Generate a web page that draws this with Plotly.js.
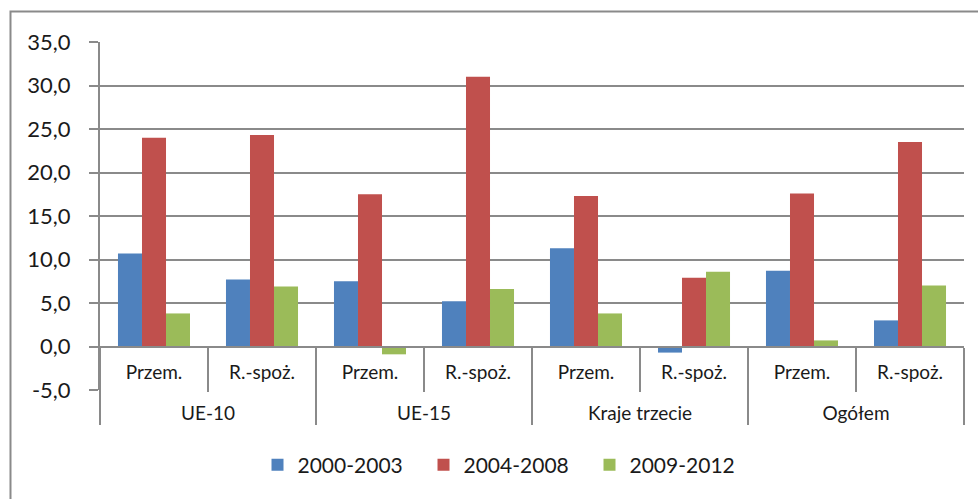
<!DOCTYPE html>
<html><head><meta charset="utf-8">
<script src="https://cdn.plot.ly/plotly-3.0.1.min.js"></script>
<style>html,body{margin:0;padding:0;background:#fff;}#chart{width:978px;height:499px;}</style>
</head><body><div id="chart"></div>
<script>
const groups = ['UE-10','UE-10','UE-15','UE-15','Kraje trzecie','Kraje trzecie','Ogółem','Ogółem'];
const subcats = ['Przem.','R.-spoż.','Przem.','R.-spoż.','Przem.','R.-spoż.','Przem.','R.-spoż.'];
const seriesNames = ['2000-2003','2004-2008','2009-2012'];
const s2000 = [10.7, 7.7, 7.5, 5.2, 11.3, -0.7, 8.7, 3.0];
const s2004 = [24.0, 24.3, 17.5, 31.0, 17.3, 7.9, 17.6, 23.5];
const s2009 = [3.8, 6.9, -0.9, 6.6, 3.8, 8.6, 0.7, 7.0];
const yTicks = [-5, 0, 5, 10, 15, 20, 25, 30, 35];
const yTickText = ['-5,0', '0,0', '5,0', '10,0', '15,0', '20,0', '25,0', '30,0', '35,0'];
const colors = ['#4F81BD', '#C0504D', '#9BBB59'];

const font = 'Lato, "Open Sans", sans-serif';
const gray = '#8a8a8a';
// an empty second line under each sub-category label pushes the group row down
const subLabels = subcats.map(s => s + '<br>\u00a0');
const data = [s2000, s2004, s2009].map((vals, i) => ({
  type: 'bar',
  name: seriesNames[i],
  x: [groups, subLabels],
  y: vals,
  marker: {color: colors[i], line: {width: 0}},
  hoverinfo: 'y'
}));

const layout = {
  width: 978, height: 499,
  margin: {l: 100, r: 14, t: 42, b: 109, pad: 0},
  paper_bgcolor: '#fff', plot_bgcolor: '#fff',
  separators: ', ',
  barmode: 'group', bargap: 0.333, bargroupgap: 0,
  showlegend: true,
  legend: {orientation: 'h', x: 0.1823, xanchor: 'left', y: -0.216, yanchor: 'middle',
           font: {family: font, size: 21, color: '#1a1a1a'},
           entrywidth: 121, entrywidthmode: 'pixels', traceorder: 'normal'},
  xaxis: {
    type: 'multicategory', anchor: 'free', position: 0.125,
    showline: true, linecolor: gray, linewidth: 2,
    ticks: 'outside', tickson: 'boundaries', ticklen: 44, tickcolor: gray, tickwidth: 2,
    showdividers: true, dividercolor: gray, dividerwidth: 2,
    showgrid: false, zeroline: false,
    ticklabelstandoff: 9,
    tickfont: {family: font, size: 19, color: '#1a1a1a'}
  },
  yaxis: {
    range: [-5, 35], tickvals: yTicks, ticktext: yTickText,
    showgrid: true, gridcolor: gray, gridwidth: 2, zeroline: false,
    showline: true, linecolor: gray, linewidth: 2,
    ticks: 'outside', ticklen: 9, tickcolor: gray, tickwidth: 2,
    ticklabelstandoff: 14,
    tickfont: {family: font, size: 22, color: '#1a1a1a'}
  },
  shapes: [{type: 'rect', xref: 'paper', yref: 'paper',
            x0: -0.1036, x1: 1.05, y0: -0.4, y1: 1.0878,
            line: {color: gray, width: 2}, fillcolor: 'rgba(0,0,0,0)', layer: 'below'}]
};

Plotly.newPlot('chart', data, layout, {displayModeBar: false, staticPlot: true});
</script></body></html>
